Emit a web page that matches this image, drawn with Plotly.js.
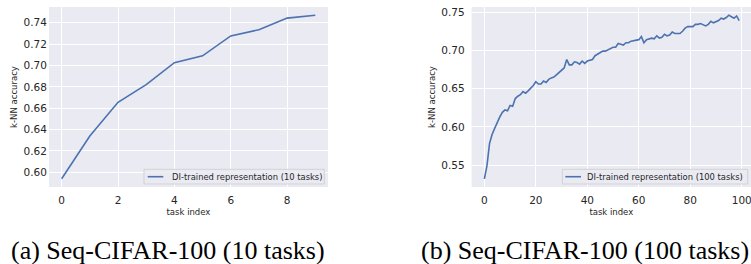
<!DOCTYPE html>
<html>
<head>
<meta charset="utf-8">
<script src="https://cdn.plot.ly/plotly-3.0.1.min.js"></script>
<style>
  html, body { margin: 0; padding: 0; background: #ffffff; }
  #chart { width: 751px; height: 264px; }
</style>
</head>
<body>
<div id="chart"></div>
<script>
// ---- data ----
const tasks10 = [0, 1, 2, 3, 4, 5, 6, 7, 8, 9];
const acc10 = [0.594, 0.634, 0.6655, 0.682, 0.7026, 0.709, 0.7276, 0.7335, 0.7443, 0.747];

const tasks100 = Array.from({length: 100}, (_, i) => i);
const acc100 = [
  0.532, 0.549, 0.578, 0.590, 0.598, 0.606, 0.613, 0.619, 0.622, 0.621,
  0.628, 0.627, 0.637, 0.640, 0.642, 0.646, 0.644, 0.647, 0.650, 0.654,
  0.659, 0.656, 0.656, 0.660, 0.658, 0.662, 0.664, 0.665, 0.668, 0.671,
  0.674, 0.677, 0.688, 0.681, 0.681, 0.685, 0.684, 0.682, 0.686, 0.683,
  0.686, 0.687, 0.688, 0.693, 0.695, 0.698, 0.699, 0.699, 0.701, 0.703,
  0.704, 0.704, 0.709, 0.708, 0.707, 0.710, 0.710, 0.712, 0.713, 0.713,
  0.714, 0.718, 0.710, 0.714, 0.715, 0.716, 0.715, 0.719, 0.716, 0.717,
  0.721, 0.719, 0.720, 0.724, 0.722, 0.722, 0.722, 0.725, 0.729, 0.731,
  0.731, 0.731, 0.734, 0.734, 0.735, 0.733, 0.732, 0.734, 0.738, 0.736,
  0.737, 0.739, 0.742, 0.741, 0.743, 0.746, 0.744, 0.742, 0.745, 0.739
];

const seriesNames = ['DI-trained representation (10 tasks)', 'DI-trained representation (100 tasks)'];
const xTitle = 'task index';
const yTitle = 'k-NN accuracy';
const captions = ['(a) Seq-CIFAR-100 (10 tasks)', '(b) Seq-CIFAR-100 (100 tasks)'];

// ---- styling ----
const lineColor = '#4c72b0';
const textColor = '#262626';
const sans = 'DejaVu Sans, sans-serif';
const serif = 'Liberation Serif, serif';

const traces = [
  {x: tasks10, y: acc10, type: 'scatter', mode: 'lines', name: seriesNames[0],
   line: {color: lineColor, width: 1.6}, xaxis: 'x', yaxis: 'y', showlegend: false},
  {x: tasks100, y: acc100, type: 'scatter', mode: 'lines', name: seriesNames[1],
   line: {color: lineColor, width: 1.6}, xaxis: 'x2', yaxis: 'y2', showlegend: false}
];

const axisCommon = {
  showgrid: true, gridcolor: '#ffffff', gridwidth: 1,
  zeroline: false, showline: false, ticks: '',
  ticklabeloverflow: 'allow',
  tickfont: {family: sans, size: 10.5, color: textColor}
};

// legend boxes (paper coordinates): [boxX0, boxX1, lineX0, lineX1, textX]
const legendBoxes = [
  [0.19174, 0.43183, 0.19667, 0.21744, 0.2260],
  [0.74874, 0.99561, 0.75273, 0.77364, 0.7785]
];
const legBoxY = [0.01667, 0.09833];
const legMidY = 0.0572;

const shapes = [];
const annotations = [];
legendBoxes.forEach((b, i) => {
  shapes.push({type: 'rect', xref: 'paper', yref: 'paper', layer: 'above',
    x0: b[0], x1: b[1], y0: legBoxY[0], y1: legBoxY[1],
    fillcolor: 'rgba(234,234,242,0.8)', line: {color: 'rgba(204,204,204,0.8)', width: 1}});
  shapes.push({type: 'line', xref: 'paper', yref: 'paper', layer: 'above',
    x0: b[2], x1: b[3], y0: legMidY, y1: legMidY,
    line: {color: lineColor, width: 1.6}});
  annotations.push({text: seriesNames[i], xref: 'paper', yref: 'paper',
    x: b[4], y: legMidY, xanchor: 'left', yanchor: 'middle', showarrow: false,
    font: {family: sans, size: 8.4, color: textColor}});
});

annotations.push(
  {text: captions[0], xref: 'paper', yref: 'paper', x: 0.012, y: -0.355,
   xanchor: 'left', yanchor: 'middle', showarrow: false,
   font: {family: serif, size: 26, color: '#000000'}},
  {text: captions[1], xref: 'paper', yref: 'paper', x: 0.5575, y: -0.355,
   xanchor: 'left', yanchor: 'middle', showarrow: false,
   font: {family: serif, size: 26, color: '#000000'}}
);

const layout = {
  width: 751, height: 264,
  margin: {l: 0, r: 0, t: 7, b: 77},
  paper_bgcolor: '#ffffff', plot_bgcolor: '#eaeaf2',
  showlegend: false,
  xaxis: Object.assign({}, axisCommon, {
    domain: [0.0652, 0.4367], range: [-0.45, 9.45], tickvals: [0, 2, 4, 6, 8],
    anchor: 'y', ticklabelstandoff: 5,
    title: {text: xTitle, font: {family: sans, size: 8.5, color: textColor}, standoff: 4}
  }),
  yaxis: Object.assign({}, axisCommon, {
    domain: [0, 1], range: [0.5863, 0.7547], dtick: 0.02, tick0: 0.6, tickformat: '.2f',
    anchor: 'x', ticklabelstandoff: 1,
    title: {text: yTitle, font: {family: sans, size: 8.5, color: textColor}, standoff: 4}
  }),
  xaxis2: Object.assign({}, axisCommon, {
    domain: [0.628, 1], range: [-4.95, 103.6], dtick: 20, tick0: 0,
    anchor: 'y2', ticklabelstandoff: 5,
    title: {text: xTitle, font: {family: sans, size: 8.5, color: textColor}, standoff: 4}
  }),
  yaxis2: Object.assign({}, axisCommon, {
    domain: [0, 1], range: [0.5213, 0.7567], dtick: 0.05, tick0: 0.55, tickformat: '.2f',
    anchor: 'x2', ticklabelstandoff: 6,
    title: {text: yTitle, font: {family: sans, size: 8.5, color: textColor}, standoff: 4}
  }),
  shapes: shapes,
  annotations: annotations
};

Plotly.newPlot('chart', traces, layout, {displayModeBar: false, staticPlot: true});
</script>
</body>
</html>
